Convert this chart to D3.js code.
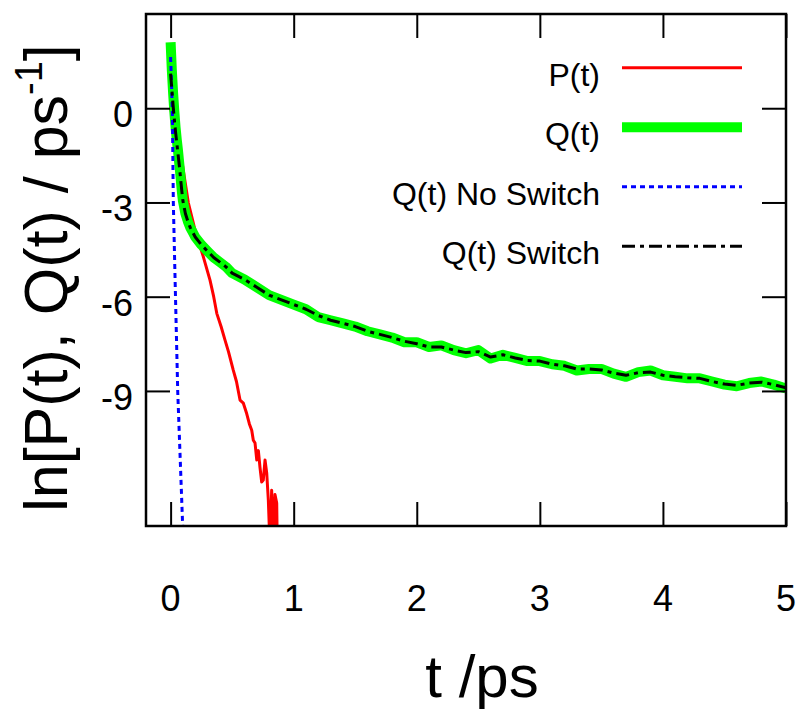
<!DOCTYPE html>
<html>
<head>
<meta charset="utf-8">
<script src="https://cdn.jsdelivr.net/npm/d3@7/dist/d3.min.js"></script>
<style>
  html, body { margin: 0; padding: 0; background: #fff; }
  svg text { font-family: "Liberation Sans", Arial, Helvetica, sans-serif; fill: #000; }
</style>
</head>
<body>
<svg id="chart" width="804" height="713"></svg>
<script>
// ---------- data ----------
const xTicks = [0, 1, 2, 3, 4, 5];
const yTicks = [0, -3, -6, -9];
const legendLabels = ["P(t)", "Q(t)", "Q(t) No Switch", "Q(t) Switch"];

// P(t) (red); -14 marks ln(0) drops below the frame
const pTime  = [0, 0.05, 0.09, 0.144, 0.2, 0.266, 0.32, 0.35, 0.375, 0.41, 0.442, 0.47, 0.509, 0.535, 0.564, 0.591, 0.618, 0.64, 0.659, 0.672, 0.686, 0.70, 0.713, 0.726, 0.74, 0.753, 0.767, 0.781, 0.794, 0.808, 0.821, 0.835, 0.848, 0.862, 0.867];
const pValue = [0, -0.9, -1.65, -3.01, -3.9, -4.73, -5.47, -6.0, -6.53, -6.95, -7.38, -7.75, -8.34, -8.7, -9.29, -9.39, -9.72, -10.05, -10.25, -10.57, -10.66, -11.2, -10.9, -11.43, -11.9, -11.84, -11.2, -11.62, -12.48, -14, -12.16, -14, -12.3, -12.57, -14];

// Q(t) (green, thick)
const qTime  = [0, 0.01, 0.02, 0.03, 0.04, 0.05, 0.06, 0.07, 0.08, 0.09, 0.1, 0.12, 0.14, 0.16, 0.18, 0.2, 0.25, 0.3, 0.35, 0.4, 0.45, 0.5,
                0.6, 0.7, 0.8, 0.9, 1.0, 1.1, 1.2, 1.3, 1.4, 1.5, 1.6, 1.7, 1.8, 1.9, 2.0, 2.1, 2.2, 2.3, 2.4, 2.5, 2.6, 2.7, 2.8, 2.9,
                3.0, 3.1, 3.2, 3.3, 3.4, 3.5, 3.6, 3.7, 3.8, 3.9, 4.0, 4.1, 4.2, 4.3, 4.4, 4.5, 4.6, 4.7, 4.8, 4.9, 5.0];
const qValue = [2.1, 1.2, 0.5, -0.1, -0.6, -1.0, -1.35, -1.75, -2.15, -2.6, -2.95, -3.35, -3.6, -3.8, -3.95, -4.1, -4.35, -4.55, -4.75, -4.9, -5.05, -5.25,
                -5.45, -5.7, -5.95, -6.1, -6.25, -6.4, -6.65, -6.75, -6.85, -6.95, -7.1, -7.2, -7.3, -7.45, -7.45, -7.6, -7.55, -7.7, -7.8, -7.7, -7.97, -7.85, -7.95, -8.05,
                -8.05, -8.15, -8.2, -8.35, -8.3, -8.3, -8.45, -8.55, -8.4, -8.35, -8.5, -8.55, -8.6, -8.6, -8.7, -8.8, -8.85, -8.75, -8.7, -8.8, -8.92];

// Q(t) No Switch (blue, dotted)
const nsTime  = [0, 0.014, 0.022, 0.036, 0.058, 0.098, 0.102];
const nsValue = [1.63, -0.03, -3.0, -5.4, -9.04, -13.3, -13.6];

// Q(t) Switch (black, dash-dot)
const swTime  = [0, 0.01, 0.02, 0.03, 0.04, 0.05, 0.06, 0.07, 0.08, 0.09, 0.1, 0.12, 0.14, 0.16, 0.18, 0.2, 0.25, 0.3, 0.35, 0.4, 0.45, 0.5,
                 0.6, 0.7, 0.8, 0.9, 1.0, 1.1, 1.2, 1.3, 1.4, 1.5, 1.6, 1.7, 1.8, 1.9, 2.0, 2.1, 2.2, 2.3, 2.4, 2.5, 2.6, 2.7, 2.8, 2.9,
                 3.0, 3.1, 3.2, 3.3, 3.4, 3.5, 3.6, 3.7, 3.8, 3.9, 4.0, 4.1, 4.2, 4.3, 4.4, 4.5, 4.6, 4.7, 4.8, 4.9, 5.0];
const swValue = [1.1, 0.6, 0.1, -0.35, -0.75, -1.1, -1.45, -1.8, -2.2, -2.6, -2.95, -3.35, -3.6, -3.8, -3.95, -4.1, -4.35, -4.55, -4.75, -4.9, -5.05, -5.25,
                 -5.45, -5.7, -5.95, -6.1, -6.25, -6.4, -6.6, -6.75, -6.85, -6.95, -7.1, -7.2, -7.3, -7.42, -7.5, -7.6, -7.6, -7.7, -7.78, -7.75, -7.92, -7.85, -7.95, -8.03,
                 -8.05, -8.15, -8.2, -8.3, -8.3, -8.33, -8.43, -8.5, -8.42, -8.4, -8.5, -8.55, -8.58, -8.6, -8.7, -8.78, -8.82, -8.75, -8.72, -8.8, -8.9];

// ---------- layout ----------
const svg = d3.select("#chart");
const L = 146, R = 786, T = 14, B = 526;
const x = d3.scaleLinear().domain([-0.2, 5]).range([L, R]);
const y = d3.scaleLinear().domain([-13.3, 3]).range([B, T]);

svg.append("defs").append("clipPath").attr("id", "plotclip")
  .append("rect").attr("x", L).attr("y", T).attr("width", R - L).attr("height", B - T);

const line = d3.line().x(d => x(d[0])).y(d => y(d[1]));
const zip = (a, b) => a.map((v, i) => [v, b[i]]);

const series = [
  { t: pTime,  v: pValue,  color: "#ff0000", width: 3,  dash: null },
  { t: qTime,  v: qValue,  color: "#00ff00", width: 10, dash: null },
  { t: nsTime, v: nsValue, color: "#0000ff", width: 3,  dash: "5,4" },
  { t: swTime, v: swValue, color: "#000000", width: 3,  dash: "13,5,4,5" }
];

const plot = svg.append("g").attr("clip-path", "url(#plotclip)");
series.forEach(s => {
  plot.append("path")
    .datum(zip(s.t, s.v))
    .attr("d", line)
    .attr("fill", "none")
    .attr("stroke", s.color)
    .attr("stroke-width", s.width)
    .attr("stroke-linejoin", "round")
    .attr("stroke-linecap", "butt")
    .attr("stroke-dasharray", s.dash);
});

// ---------- axes (inward ticks, mirrored) ----------
const tickLen = 24;
const axB = svg.append("g").attr("transform", `translate(0,${B})`)
  .call(d3.axisBottom(x).tickValues(xTicks).tickSize(-tickLen).tickFormat(""));
const axT = svg.append("g").attr("transform", `translate(0,${T})`)
  .call(d3.axisTop(x).tickValues(xTicks).tickSize(-tickLen).tickFormat(""));
const axL = svg.append("g").attr("transform", `translate(${L},0)`)
  .call(d3.axisLeft(y).tickValues(yTicks).tickSize(-tickLen).tickFormat(""));
const axR = svg.append("g").attr("transform", `translate(${R},0)`)
  .call(d3.axisRight(y).tickValues(yTicks).tickSize(-tickLen).tickFormat(""));
[axB, axT, axL, axR].forEach(a => {
  a.select(".domain").remove();
  a.selectAll(".tick line").attr("stroke", "#000").attr("stroke-width", 2);
});

svg.append("rect").attr("x", L).attr("y", T).attr("width", R - L).attr("height", B - T)
  .attr("fill", "none").attr("stroke", "#000").attr("stroke-width", 2.5);

// tick labels
svg.append("g").selectAll("text").data(xTicks).join("text")
  .attr("x", d => x(d)).attr("y", 611)
  .attr("text-anchor", "middle").attr("font-size", 36)
  .text(d => d);
svg.append("g").selectAll("text").data(yTicks).join("text")
  .attr("x", 133).attr("y", d => y(d) + 19)
  .attr("text-anchor", "end").attr("font-size", 36)
  .text(d => d);

// axis titles
svg.append("text").attr("x", 482).attr("y", 697)
  .attr("text-anchor", "middle").attr("font-size", 60)
  .text("t /ps");

const yt = svg.append("text")
  .attr("transform", "translate(67,278) rotate(-90)")
  .attr("text-anchor", "middle").attr("font-size", 61);
yt.append("tspan").text("ln[P(t), Q(t) / ps");
yt.append("tspan").attr("font-size", 38).attr("dy", -25).text("-1");
yt.append("tspan").attr("dy", 25).text("]");

// ---------- legend ----------
const legY0 = 67.7, legStep = 59.5;
const leg = svg.append("g");
series.forEach((s, i) => {
  const ly = legY0 + i * legStep;
  leg.append("line")
    .attr("x1", 622).attr("x2", 742).attr("y1", ly).attr("y2", ly)
    .attr("stroke", s.color).attr("stroke-width", s.width)
    .attr("stroke-dasharray", s.dash);
  leg.append("text")
    .attr("x", 600).attr("y", ly + 18)
    .attr("text-anchor", "end").attr("font-size", 32)
    .text(legendLabels[i]);
});
</script>
</body>
</html>
